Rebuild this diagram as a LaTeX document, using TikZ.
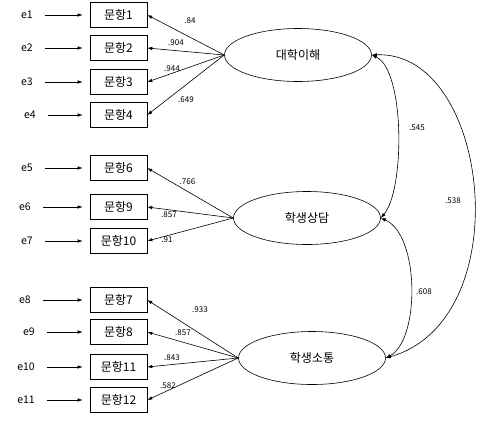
\documentclass[tikz,border=0pt]{standalone}
\usepackage{fontspec}
\setmainfont{Noto Sans CJK KR}
\usetikzlibrary{arrows.meta, positioning, shapes.geometric}

\begin{document}
\begin{tikzpicture}[x=1pt, y=-1pt,
    ibox/.style={rectangle, draw, line width=0.6pt, minimum width=57pt, minimum height=25pt,
      inner sep=1pt, font=\fontsize{12}{14}\selectfont},
    fac/.style={ellipse, draw, line width=0.6pt, minimum width=147pt, minimum height=53pt,
      inner sep=0pt, font=\fontsize{12}{14}\selectfont},
    elab/.style={font=\fontsize{10.5}{12}\selectfont, inner sep=2pt},
    wlab/.style={font=\fontsize{8}{9}\selectfont, inner sep=0pt},
    iarr/.style={-{Latex[length=5pt, width=3.5pt]}, line width=0.6pt},
    earr/.style={iarr, shorten <=10pt, shorten >=7pt},
    carr/.style={{Latex[length=5pt, width=3.5pt]}-{Latex[length=5pt, width=3.5pt]}, line width=0.6pt}
  ]
  \useasboundingbox (0,0) rectangle (480,421);

  % observed items
  \node[ibox] (i1) at (118.5,15) {문항1};
  \node[ibox] (i2) at (118.5,48) {문항2};
  \node[ibox] (i3) at (118.5,82) {문항3};
  \node[ibox] (i4) at (118.5,115) {문항4};
  \node[ibox] (i6) at (118.5,168) {문항6};
  \node[ibox] (i9) at (118.5,207) {문항9};
  \node[ibox] (i10) at (118.5,241) {문항10};
  \node[ibox] (i7) at (118.5,300) {문항7};
  \node[ibox] (i8) at (118.5,332) {문항8};
  \node[ibox] (i11) at (118.5,367) {문항11};
  \node[ibox] (i12) at (118.5,400) {문항12};

  % error terms
  \node[elab] (e1) at (27,15) {e1};
  \node[elab] (e2) at (27,48) {e2};
  \node[elab] (e3) at (27,82) {e3};
  \node[elab] (e4) at (30,115) {e4};
  \node[elab] (e5) at (27,168) {e5};
  \node[elab] (e6) at (25,207) {e6};
  \node[elab] (e7) at (27,241) {e7};
  \node[elab] (e8) at (25,300) {e8};
  \node[elab] (e9) at (29,332) {e9};
  \node[elab] (e10) at (26,367) {e10};
  \node[elab] (e11) at (26,400) {e11};

  % latent factors
  \node[fac] (f1) at (298,55) {대학이해};
  \node[fac] (f2) at (307,218) {학생상담};
  \node[fac] (f3) at (312,358) {학생소통};

  \draw[earr] (e1) -- (i1);
  \draw[earr] (e2) -- (i2);
  \draw[earr] (e3) -- (i3);
  \draw[earr] (e4) -- (i4);
  \draw[earr] (e5) -- (i6);
  \draw[earr] (e6) -- (i9);
  \draw[earr] (e7) -- (i10);
  \draw[earr] (e8) -- (i7);
  \draw[earr] (e9) -- (i8);
  \draw[earr] (e10) -- (i11);
  \draw[earr] (e11) -- (i12);

  % loadings
  \draw[iarr] (f1.west) -- (i1.east);
  \draw[iarr] (f1.west) -- (i2.east);
  \draw[iarr] (f1.west) -- (i3.east);
  \draw[iarr] (f1.west) -- (i4.east);
  \draw[iarr] (f2.west) -- (i6.east);
  \draw[iarr] (f2.west) -- (i9.east);
  \draw[iarr] (f2.west) -- (i10.east);
  \draw[iarr] (f3.west) -- (i7.east);
  \draw[iarr] (f3.west) -- (i8.east);
  \draw[iarr] (f3.west) -- (i11.east);
  \draw[iarr] (f3.west) -- (i12.east);

  \node[wlab] at (190,21) {.84};
  \node[wlab] at (176,43) {.904};
  \node[wlab] at (172,69) {.944};
  \node[wlab] at (186,100) {.649};
  \node[wlab] at (187.5,182) {.766};
  \node[wlab] at (169,215) {.857};
  \node[wlab] at (167,240) {.91};
  \node[wlab] at (200,310) {.933};
  \node[wlab] at (183,333) {.857};
  \node[wlab] at (172,358) {.843};
  \node[wlab] at (168,386) {.582};

  % correlations
  \draw[carr] (f1.east) .. controls (405,70) and (405,190) .. (f2.east);
  \draw[carr] (f2.east) .. controls (420,235) and (420,340) .. (f3.east);
  \draw[carr] (f1.east) .. controls (490,50) and (520,320) .. (f3.east);
  \node[wlab] at (417,128) {.545};
  \node[wlab] at (424,292) {.608};
  \node[wlab] at (453,201) {.538};
\end{tikzpicture}
\end{document}
